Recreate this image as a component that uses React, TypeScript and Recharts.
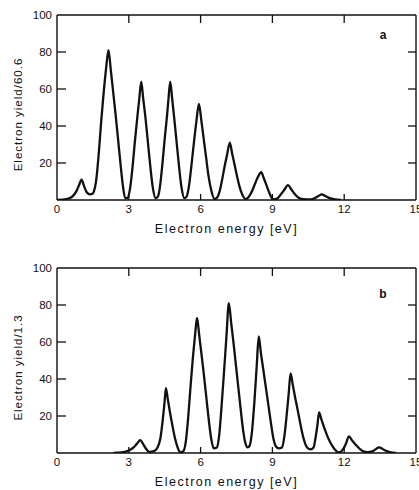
import React from 'react';
import { LineChart, Line, XAxis, YAxis, ReferenceLine } from 'recharts';

const energyTicks = [0, 3, 6, 9, 12, 15];
const yieldTicks = [20, 40, 60, 80, 100];

// panel a, yield scaled by 60.6
const energyA = [
  0, 0.4, 0.65, 0.8, 0.92, 1.03, 1.13, 1.25, 1.38, 1.5,
  1.55, 1.65, 1.75, 1.85, 1.95, 2.05, 2.15, 2.25, 2.35, 2.45, 2.55, 2.65, 2.75, 2.85,
  2.95, 3.05, 3.15, 3.25, 3.35, 3.44, 3.52, 3.6, 3.7, 3.8, 3.9, 4.0, 4.12,
  4.22, 4.3, 4.4, 4.5, 4.6, 4.66, 4.73, 4.81, 4.9, 5.0, 5.1, 5.2, 5.32,
  5.42, 5.52, 5.62, 5.72, 5.82, 5.93, 6.03, 6.13, 6.23, 6.33, 6.45, 6.58,
  6.7, 6.8, 6.9, 7.0, 7.1, 7.22, 7.32, 7.42, 7.52, 7.62, 7.74, 7.88,
  8.0, 8.12, 8.25, 8.38, 8.53, 8.65, 8.78, 8.9, 9.03,
  9.2, 9.35, 9.5, 9.65, 9.8, 9.95, 10.1, 10.3,
  10.6, 10.8, 10.93, 11.06, 11.2, 11.4, 11.6, 11.86,
];
const yieldA = [
  0, 0.5, 2, 4.5, 8, 11, 7.5, 4, 3, 3.5,
  5, 12, 26, 43, 58, 71, 81, 70, 58, 46, 33, 20, 8, 1,
  1, 6, 17, 31, 44, 55, 64, 55, 44, 31, 18, 7, 1,
  2, 7, 19, 33, 46, 55, 64, 55, 44, 31, 18, 7, 1,
  2, 8, 19, 31, 42, 52, 43, 33, 23, 13, 5, 0.5,
  1.5, 5, 11, 18, 24, 31, 25, 19, 13, 7.5, 3, 0.5,
  1.5, 4, 8, 12, 15, 11.5, 7, 3, 0.3,
  0.8, 3, 5.5, 8, 5.5, 3, 1.2, 0.4,
  0.3, 1.2, 2.2, 3, 2.2, 1, 0.4, 0,
];

// panel b, yield scaled by 1.3
const energyB = [
  2.36, 2.7, 3.0, 3.2, 3.35, 3.48, 3.6, 3.72, 3.85,
  4.05, 4.2, 4.32, 4.42, 4.49, 4.55, 4.63, 4.72, 4.82, 4.93, 5.04, 5.15,
  5.28, 5.38, 5.48, 5.58, 5.68, 5.77, 5.85, 5.94, 6.04, 6.14, 6.24, 6.34, 6.44, 6.55,
  6.68, 6.78, 6.88, 6.98, 7.08, 7.18, 7.28, 7.38, 7.48, 7.58, 7.68, 7.78, 7.88, 7.97,
  8.05, 8.15, 8.25, 8.34, 8.43, 8.52, 8.62, 8.72, 8.82, 8.93, 9.04, 9.15, 9.27,
  9.4, 9.5, 9.6, 9.68, 9.76, 9.85, 9.95, 10.06, 10.18, 10.3, 10.45, 10.6,
  10.72, 10.8, 10.88, 10.95, 11.05, 11.17, 11.3, 11.45, 11.6, 11.78,
  11.95, 12.07, 12.2, 12.33, 12.48, 12.65, 12.8, 12.97,
  13.2, 13.33, 13.46, 13.6, 13.78, 13.95, 14.16,
];
const yieldB = [
  0, 0.3, 1.3, 3, 5.2, 7, 4.8, 2.3, 0.6,
  1, 3, 8, 18, 27, 35, 29, 22, 15, 8, 3, 0.3,
  1, 6, 19, 36, 52, 64, 73, 64, 53, 42, 30, 18, 8, 2.5,
  3, 10, 26, 44, 63, 81, 70, 59, 47, 35, 23, 12, 5, 3,
  4, 12, 28, 46, 63, 54, 45, 36, 27, 17, 8, 3.5, 2.5,
  3, 9, 21, 32, 43, 37, 30, 23, 15, 8, 3, 2,
  3, 8, 15, 22, 18, 13.5, 9, 5, 2, 0.3,
  2, 5, 9, 6.8, 4.5, 2.2, 0.9, 0.5,
  1, 2.2, 3, 2.2, 1, 0.3, 0,
];

const dataA = energyA.map((e, i) => ({ e, y: yieldA[i] }));
const dataB = energyB.map((e, i) => ({ e, y: yieldB[i] }));

const FONT = '"Liberation Sans", Arial, Helvetica, sans-serif';
const INK = '#111';
const PLOT_LEFT = 57;
const PLOT_RIGHT = 416;
const PLOT_H = 185;
const titleStyle = { fill: INK, fontSize: 12.5, fontFamily: FONT, letterSpacing: 1.5 };

// ticks point inward on all four sides, like the original figure
function EnergyTick({ x, payload, top }: any) {
  const bottom = top + PLOT_H;
  const v = payload.value;
  const inner = v > 0 && v < 15;
  return (
    <g>
      {inner && <line x1={x} x2={x} y1={bottom} y2={bottom - 6} stroke={INK} strokeWidth={1.3} />}
      {inner && <line x1={x} x2={x} y1={top} y2={top + 8} stroke={INK} strokeWidth={1.3} />}
      <text x={x} y={bottom + 13} textAnchor="middle" fontSize={11.5} fontFamily={FONT} fill={INK}>
        {v}
      </text>
    </g>
  );
}

function YieldTick({ y, payload }: any) {
  const v = payload.value;
  return (
    <g>
      {v < 100 && <line x1={PLOT_LEFT} x2={PLOT_LEFT + 9} y1={y} y2={y} stroke={INK} strokeWidth={1.3} />}
      {v < 100 && <line x1={PLOT_RIGHT} x2={PLOT_RIGHT - 8} y1={y} y2={y} stroke={INK} strokeWidth={1.3} />}
      <text x={52} y={y + 4} textAnchor="end" fontSize={11.5} fontFamily={FONT} fill={INK}>
        {v}
      </text>
    </g>
  );
}

function Panel({ data, top, xTitleOffset, yTitle, tag, tagY }: any) {
  const axisH = 245 - top - PLOT_H;
  return (
    <LineChart width={419} height={245} data={data} margin={{ top, right: 419 - PLOT_RIGHT, bottom: 0, left: 0 }}>
      <XAxis
        type="number"
        dataKey="e"
        domain={[0, 15]}
        allowDataOverflow
        ticks={energyTicks}
        interval={0}
        height={axisH}
        stroke={INK}
        strokeWidth={1.4}
        tickLine={false}
        tick={<EnergyTick top={top} />}
        label={{ value: 'Electron energy [eV]', position: 'insideBottom', offset: xTitleOffset, dx: -10, style: titleStyle }}
      />
      <YAxis
        type="number"
        domain={[0, 100]}
        allowDataOverflow
        ticks={yieldTicks}
        interval={0}
        width={PLOT_LEFT}
        stroke={INK}
        strokeWidth={1.4}
        tickLine={false}
        tick={<YieldTick />}
        label={{
          value: yTitle,
          angle: -90,
          position: 'center',
          dx: -11,
          dy: 7,
          style: { fill: INK, fontSize: 11.5, fontFamily: FONT, letterSpacing: 1 },
        }}
      />
      <ReferenceLine x={15} stroke={INK} strokeWidth={1.4} />
      <ReferenceLine y={100} stroke={INK} strokeWidth={1.4} />
      <Line
        type="monotone"
        dataKey="y"
        stroke={INK}
        strokeWidth={2.3}
        dot={false}
        isAnimationActive={false}
      />
      <text x={383} y={tagY} textAnchor="middle" fontSize={12} fontWeight="bold" fontFamily={FONT} fill={INK}>
        {tag}
      </text>
    </LineChart>
  );
}

export default function App() {
  return (
    <div style={{ position: 'absolute', left: 0, top: 0, width: 419, height: 490, background: '#fff' }}>
      <Panel data={dataA} top={15} xTitleOffset={12} yTitle="Electron yield/60.6" tag="a" tagY={39} />
      <Panel data={dataB} top={23} xTitleOffset={4} yTitle="Electron yield/1.3" tag="b" tagY={53} />
    </div>
  );
}
